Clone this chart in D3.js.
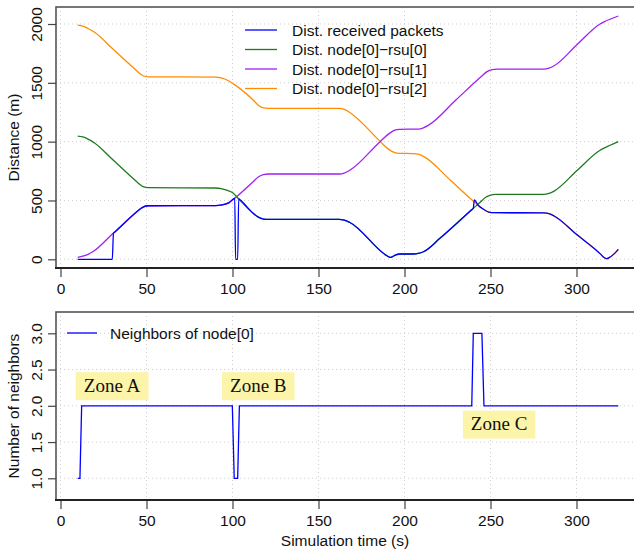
<!DOCTYPE html>
<meta charset="utf-8">
<head>
    <title>Distances and neighbors of node[0]</title>
    <script type="text/javascript" src="https://cdn.jsdelivr.net/npm/d3@7"></script>
    <style>
        body { margin: 0; background: white; }
        text { font-family: "Liberation Sans", Arial, sans-serif; fill: #111; }
        .zone text { font-family: "Liberation Serif", "Times New Roman", serif; }
    </style>
</head>
<body>
<div id="chart"></div>
<script>

    // ---- data ----
    var timeRecv = [10, 30.1, 30.8, 31.5, 44, 46, 48, 51, 90, 94, 98, 101.3, 101.8, 103, 103.6, 104.4, 112, 115, 118, 121, 162, 165, 168, 190, 191.6, 193, 195, 197.4, 205, 208, 211, 220.6, 238.6, 240, 240.6, 242.7, 246, 249, 252, 281, 284, 287, 300, 314, 316, 317.5, 319, 322, 324.3];
    var distRecv = [0, 0, 221, 230, 400, 424, 444, 455, 456, 462, 482, 519, 0, 0, 515, 506, 391, 358, 342, 340, 340, 333, 315, 28, 16, 22, 38, 45, 45, 50, 64, 178, 415, 434, 504, 462, 425, 402, 396, 395, 388, 368, 212, 44, 15, 6, 14, 48, 85];

    var timeRsu0 = [10, 13, 16, 20, 30, 44, 46, 48, 51, 90, 94, 97, 100.5, 102.4, 112, 115, 118, 121, 162, 165, 168, 190, 191.6, 193, 195, 197.4, 205, 208, 211, 220.6, 240, 244, 247, 250, 253, 281, 284, 287, 300, 313.7, 316, 324.3];
    var distRsu0 = [1047, 1040, 1022, 987, 852, 663, 638, 618, 609, 606, 598, 585, 561, 532, 391, 358, 342, 340, 340, 333, 315, 28, 16, 22, 38, 45, 45, 50, 64, 178, 434, 485, 525, 546, 552, 552, 560, 580, 750, 927, 945, 1000];

    var timeRsu1 = [10, 13, 16, 19, 30.6, 44, 46, 48, 51, 90, 94, 98, 102.4, 112, 115, 118, 121, 162, 165, 168, 185.8, 191, 194, 197, 208, 211, 214, 230, 245, 248, 251, 254, 281, 284, 287, 300, 313.7, 316, 324.3];
    var distRsu1 = [17, 26, 42, 66, 221, 400, 424, 444, 455, 456, 462, 482, 532, 660, 700, 720, 725, 725, 733, 755, 1000, 1068, 1095, 1105, 1107, 1118, 1140, 1356, 1558, 1595, 1612, 1616, 1616, 1625, 1645, 1820, 2000, 2018, 2068];

    var timeRsu2 = [10, 13, 16, 20, 30, 40, 44, 46, 48, 51, 90, 94, 97, 100.5, 112, 115, 118, 121, 162, 165, 168, 186, 191, 194, 197, 205, 208, 211, 227, 242.7, 246, 249, 252, 281, 284, 287, 300, 314, 316, 317.5, 319, 322, 324.3];
    var distRsu2 = [1990, 1982, 1962, 1928, 1794, 1660, 1606, 1580, 1560, 1551, 1549, 1540, 1522, 1491, 1354, 1310, 1287, 1283, 1283, 1275, 1250, 1000, 932, 908, 900, 899, 893, 875, 668, 462, 425, 402, 396, 395, 388, 368, 212, 44, 15, 6, 14, 48, 85];

    var timeNeigh = [10, 11.3, 12.3, 99.9, 101, 103, 104, 239.1, 240, 245, 246.2, 324.3];
    var countNeigh = [1, 1, 2, 2, 1, 1, 2, 2, 3, 3, 2, 2];

    var seriesNames = ["Dist. received packets", "Dist. node[0]\u2212rsu[0]", "Dist. node[0]\u2212rsu[1]", "Dist. node[0]\u2212rsu[2]"];
    var seriesColors = ["#0000ff", "#1f7a1f", "#a020f0", "#ff8c00"];

    var xTicks = [0, 50, 100, 150, 200, 250, 300];
    var distTicks = [0, 500, 1000, 1500, 2000];
    var neighTicks = [1.0, 1.5, 2.0, 2.5, 3.0];

    var zoneNames = ["Zone A", "Zone B", "Zone C"];
    var zoneTimes = [30, 115, 255];
    var zoneLevels = [2.27, 2.27, 1.74];

    // ---- layout ----
    var width = 634, height = 550;
    var plotLeft = 56, plotRight = 642;
    var top1 = 7, bottom1 = 268;
    var top2 = 312, bottom2 = 500;

    var svg = d3.select("#chart").append("svg")
        .attr("width", width)
        .attr("height", height);

    var x = d3.scaleLinear().domain([0, 300]).range([60.5, 576.5]);
    var yDist = d3.scaleLinear().domain([0, 2000]).range([259.3, 24]);
    var yNeigh = d3.scaleLinear().domain([1, 3]).range([478.3, 333.3]);

    function zip(ts, vs) { return ts.map(function(t, i) { return [t, vs[i]]; }); }

    // draws box, grid and axes for one panel
    function panel(y, yTicks, yFmt, top, bottom, title) {
        var g = svg.append("g");

        // dotted grid
        g.selectAll(".vgrid").data(xTicks).enter().append("line")
            .attr("x1", d => x(d)).attr("x2", d => x(d))
            .attr("y1", top).attr("y2", bottom)
            .style("stroke", "#cfcfcf").style("stroke-dasharray", "1,3");
        g.selectAll(".hgrid").data(yTicks).enter().append("line")
            .attr("x1", plotLeft).attr("x2", plotRight)
            .attr("y1", d => y(d)).attr("y2", d => y(d))
            .style("stroke", "#cfcfcf").style("stroke-dasharray", "1,3");

        g.append("rect")
            .attr("x", plotLeft).attr("y", top)
            .attr("width", plotRight - plotLeft).attr("height", bottom - top)
            .style("fill", "none").style("stroke", "#555").style("stroke-width", 1.6);

        // x axis
        var xa = g.append("g")
            .attr("transform", "translate(0," + bottom + ")")
            .call(d3.axisBottom(x).tickValues(xTicks).tickSize(9).tickPadding(5.5).tickFormat(d3.format("d")));
        xa.select(".domain").remove();
        xa.selectAll("line").style("stroke", "#444").style("stroke-width", 1.2);
        xa.selectAll("text").style("font-size", "15.5px").attr("fill", "#111");
        g.append("line")
            .attr("x1", plotLeft - 1).attr("x2", plotRight)
            .attr("y1", bottom).attr("y2", bottom)
            .style("stroke", "#222").style("stroke-width", 1.8);

        // y axis, labels rotated like R
        var ya = g.append("g")
            .attr("transform", "translate(" + plotLeft + ",0)")
            .call(d3.axisLeft(y).tickValues(yTicks).tickSize(8).tickFormat(yFmt));
        ya.select(".domain").remove();
        ya.selectAll("line").style("stroke", "#444").style("stroke-width", 1.2);
        ya.selectAll("text")
            .attr("transform", "rotate(-90)")
            .attr("x", 0).attr("y", -14).attr("dy", 0)
            .attr("text-anchor", "middle")
            .style("font-size", "15.5px").attr("fill", "#111");

        g.append("text")
            .attr("transform", "translate(19," + (top + bottom) / 2 + ") rotate(-90)")
            .attr("text-anchor", "middle")
            .style("font-size", "15.5px")
            .text(title);
    }

    panel(yDist, distTicks, d3.format("d"), top1, bottom1, "Distance (m)");
    panel(yNeigh, neighTicks, d3.format(".1f"), top2, bottom2, "Number of neighbors");

    // ---- top panel lines ----
    var distLine = d3.line()
        .x(d => x(d[0]))
        .y(d => yDist(d[1]))
        .curve(d3.curveMonotoneX);

    var topSeries = [
        zip(timeRsu2, distRsu2),
        zip(timeRsu1, distRsu1),
        zip(timeRsu0, distRsu0),
        zip(timeRecv, distRecv)
    ];
    var topColors = [seriesColors[3], seriesColors[2], seriesColors[1], seriesColors[0]];

    svg.append("g").selectAll("path")
        .data(topSeries)
        .enter().append("path")
        .attr("d", distLine)
        .style("fill", "none")
        .style("stroke", (d, i) => topColors[i])
        .style("stroke-width", 1.3);

    // legend, top panel
    var legend = svg.append("g");
    seriesNames.forEach(function(name, i) {
        var ly = 30 + i * 19.5;
        legend.append("line")
            .attr("x1", 245).attr("x2", 277).attr("y1", ly).attr("y2", ly)
            .style("stroke", seriesColors[i]).style("stroke-width", 1.3);
        legend.append("text")
            .attr("x", 292).attr("y", ly).attr("dy", "0.36em")
            .style("font-size", "15.5px")
            .text(name);
    });

    // ---- bottom panel ----
    var neighLine = d3.line()
        .x(d => x(d[0]))
        .y(d => yNeigh(d[1]));

    svg.append("path")
        .datum(zip(timeNeigh, countNeigh))
        .attr("d", neighLine)
        .style("fill", "none")
        .style("stroke", "#0000ff")
        .style("stroke-width", 1.3);

    svg.append("line")
        .attr("x1", 67).attr("x2", 97).attr("y1", 333).attr("y2", 333)
        .style("stroke", "#0000ff").style("stroke-width", 1.3);
    svg.append("text")
        .attr("x", 110).attr("y", 333).attr("dy", "0.36em")
        .style("font-size", "15.5px")
        .text("Neighbors of node[0]");

    // zone labels with yellow boxes
    zoneNames.forEach(function(name, i) {
        var zg = svg.append("g").attr("class", "zone");
        var cx = x(zoneTimes[i]), cy = yNeigh(zoneLevels[i]);
        var t = zg.append("text")
            .attr("x", cx).attr("y", cy).attr("dy", "0.3em")
            .attr("text-anchor", "middle")
            .style("font-size", "19px")
            .text(name);
        var bb = t.node().getBBox();
        zg.insert("rect", "text")
            .attr("x", cx - bb.width / 2 - 8).attr("y", cy - 14)
            .attr("width", bb.width + 16).attr("height", 28)
            .style("fill", "#fcf4a8");
    });

    svg.append("text")
        .attr("x", (plotLeft + 634) / 2).attr("y", 546)
        .attr("text-anchor", "middle")
        .style("font-size", "15.5px")
        .text("Simulation time (s)");

</script>
</body>
